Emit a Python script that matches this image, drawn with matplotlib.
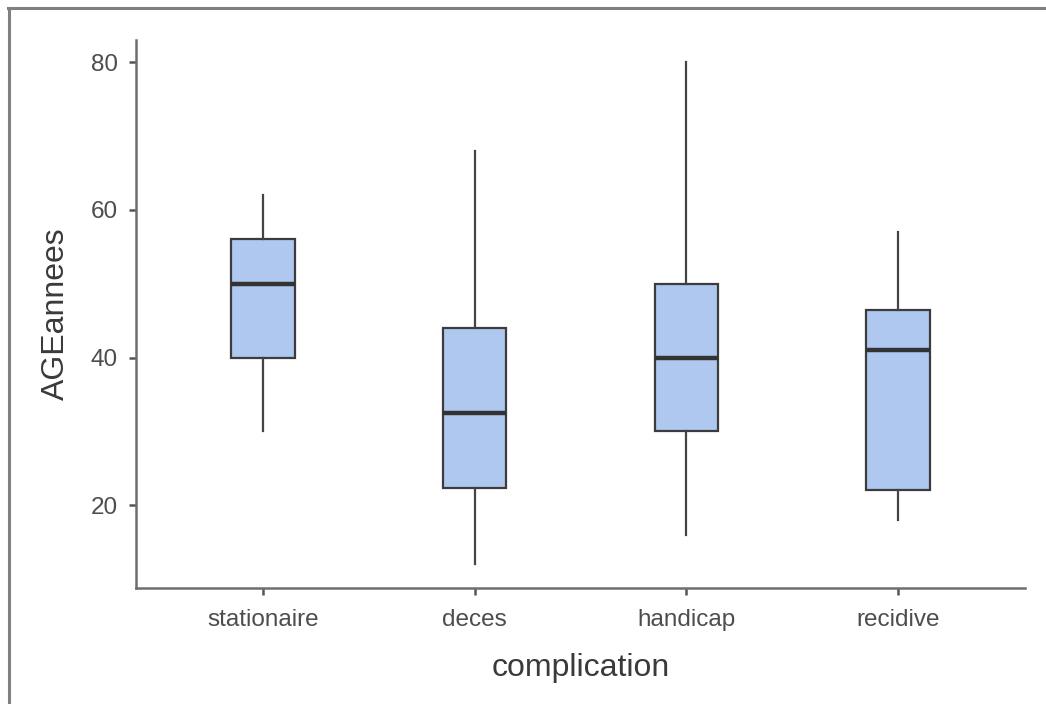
import matplotlib
matplotlib.use("Agg")
import matplotlib.pyplot as plt
from matplotlib.lines import Line2D

# Age (years) by complication group: five-number summaries
categories = ["stationaire", "deces", "handicap", "recidive"]
whisker_low = [30, 12, 16, 18]
q1 = [40, 22.3, 30, 22.1]
median = [50, 32.5, 40, 41]
q3 = [56, 44, 50, 46.5]
whisker_high = [62, 68, 80, 57]
y_ticks = [20, 40, 60, 80]

plt.rcParams["font.family"] = ["Liberation Sans", "DejaVu Sans"]

fig = plt.figure(figsize=(10.46, 7.04), dpi=100)
ax = fig.add_axes([136 / 1046, 1 - 588 / 704, (1025 - 136) / 1046, (588 - 40) / 704])

stats = []
for name, lo, a, m, b, hi in zip(categories, whisker_low, q1, median, q3, whisker_high):
    stats.append(dict(label=name, whislo=lo, q1=a, med=m, q3=b, whishi=hi, fliers=[]))

positions = list(range(1, len(categories) + 1))
ax.bxp(
    stats,
    positions=positions,
    widths=0.3,
    patch_artist=True,
    showcaps=False,
    boxprops=dict(facecolor="#aec8f0", edgecolor="#3c3c3c", linewidth=1.6),
    medianprops=dict(color="#333333", linewidth=3.2, solid_capstyle="butt"),
    whiskerprops=dict(color="#444444", linewidth=1.6),
)

ax.set_xlim(0.4, len(categories) + 0.6)
ax.set_ylim(8.8, 83.0)
ax.set_xticks(positions)
ax.set_xticklabels(categories)
ax.set_yticks(y_ticks)

for side in ("top", "right"):
    ax.spines[side].set_visible(False)
for side in ("left", "bottom"):
    ax.spines[side].set_color("#6e6e6e")
    ax.spines[side].set_linewidth(1.8)

ax.tick_params(axis="both", length=5, width=1.8, color="#555555",
               labelcolor="#4d4d4d", labelsize=17.5)
ax.tick_params(axis="x", pad=10)
ax.tick_params(axis="y", pad=8)

ax.set_xlabel("complication", fontsize=23, color="#3a3a3a", labelpad=16)
ax.set_ylabel("AGEannees", fontsize=23, color="#3a3a3a", labelpad=14)

# Outer frame along the top and left edges
fig.add_artist(Line2D([8 / 1046, 1.0], [1 - 8 / 704, 1 - 8 / 704],
                      transform=fig.transFigure, color="#808080", linewidth=2.2))
fig.add_artist(Line2D([9 / 1046, 9 / 1046], [0.0, 1 - 8 / 704],
                      transform=fig.transFigure, color="#808080", linewidth=2.2))

fig.savefig("out.png", dpi=100, facecolor="white")
